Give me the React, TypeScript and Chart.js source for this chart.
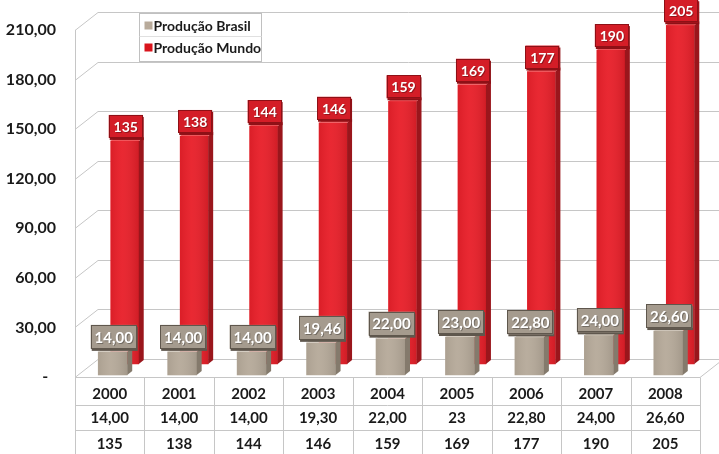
import React, { useEffect, useRef } from 'react';
import { Chart, registerables } from 'chart.js';

Chart.register(...registerables);

// ---------- data ----------
const years = ['2000', '2001', '2002', '2003', '2004', '2005', '2006', '2007', '2008'];
const seriesNames = ['Produção Brasil', 'Produção Mundo'];
const brasilValues = [14, 14, 14, 19.46, 22, 23, 22.8, 24, 26.6];
const mundoValues = [135, 138, 144, 146, 159, 169, 177, 190, 205];
const brasilLabels = ['14,00', '14,00', '14,00', '19,46', '22,00', '23,00', '22,80', '24,00', '26,60'];
const mundoLabels = ['135', '138', '144', '146', '159', '169', '177', '190', '205'];
const brasilTableLabels = ['14,00', '14,00', '14,00', '19,30', '22,00', '23', '22,80', '24,00', '26,60'];
const mundoTableLabels = ['135', '138', '144', '146', '159', '169', '177', '190', '205'];
const yMin = 0;
const yMax = 210;
const yStep = 30;

// ---------- styles ----------
const FONT = 'Lato, "Open Sans", sans-serif';
const TEXT = '#1a1a1a';
const GRID = '#c6c6c6';
const WALL_DX = 23;
const WALL_DY = -18;
const SIDE_DX = 5;
const SIDE_DY = -4;
const shifts = [
  { x: 3, y: -2 },
  { x: 15, y: -13 },
];
const looks = [
  { front: '#b6aa9a', side: '#847a6c', top: '#d3cabe', box: '#a59b8e', boxEdge: '#5f574d', legend: '#b9ab9b', font: 'bold 15px', w: 46, h: 24 },
  { front: '#e8202a', side: '#9a161c', top: '#f0565b', box: '#d41d27', boxEdge: '#8e1016', legend: '#d9141c', font: 'bold 14px', w: 34, h: 23 },
];

const excel3d = {
  id: 'excel3d',
  beforeDatasetsDraw(chart: any) {
    const { ctx, chartArea, scales } = chart;
    const y = scales.y;
    ctx.save();
    ctx.strokeStyle = GRID;
    ctx.lineWidth = 1;
    for (const t of y.ticks) {
      const py = Math.round(y.getPixelForValue(t.value)) + 0.5;
      ctx.beginPath();
      ctx.moveTo(chartArea.left, py);
      ctx.lineTo(chartArea.left + WALL_DX, py + WALL_DY);
      ctx.lineTo(chart.width, py + WALL_DY);
      ctx.stroke();
    }
    ctx.beginPath();
    ctx.moveTo(chartArea.left + 0.5, chartArea.top);
    ctx.lineTo(chartArea.left + 0.5, chart.height);
    ctx.stroke();
    const fb = Math.round(chartArea.bottom) + 0.5;
    ctx.beginPath();
    ctx.moveTo(chartArea.right, fb);
    ctx.lineTo(chartArea.right + WALL_DX, fb + WALL_DY);
    ctx.stroke();
    ctx.restore();
  },
  beforeDatasetDraw(chart: any, args: any) {
    const s = shifts[args.index];
    chart.ctx.save();
    chart.ctx.translate(s.x, s.y);
  },
  afterDatasetDraw(chart: any, args: any) {
    const ctx = chart.ctx;
    const i = args.index;
    const look = looks[i];
    const labels = i === 0 ? brasilLabels : mundoLabels;
    const meta = chart.getDatasetMeta(i);
    meta.data.forEach((el: any, k: number) => {
      const { x, y, base, width } = el.getProps(['x', 'y', 'base', 'width'], true);
      const xl = x - width / 2;
      const xr = x + width / 2;
      const g = ctx.createLinearGradient(xl, 0, xr, 0);
      g.addColorStop(0, 'rgba(0,0,0,0.06)');
      g.addColorStop(0.4, 'rgba(255,255,255,0.04)');
      g.addColorStop(1, 'rgba(0,0,0,0.1)');
      ctx.fillStyle = g;
      ctx.fillRect(xl, y, width, base - y);
      ctx.fillStyle = look.side;
      ctx.beginPath();
      ctx.moveTo(xr, y);
      ctx.lineTo(xr + SIDE_DX, y + SIDE_DY);
      ctx.lineTo(xr + SIDE_DX, base + SIDE_DY);
      ctx.lineTo(xr, base);
      ctx.closePath();
      ctx.fill();
      ctx.fillStyle = look.top;
      ctx.beginPath();
      ctx.moveTo(xl, y);
      ctx.lineTo(xl + SIDE_DX, y + SIDE_DY);
      ctx.lineTo(xr + SIDE_DX, y + SIDE_DY);
      ctx.lineTo(xr, y);
      ctx.closePath();
      ctx.fill();
      const bw = look.w;
      const bh = look.h;
      const bx = x + 1 - bw / 2;
      const by = y - 3 - bh;
      ctx.fillStyle = look.boxEdge;
      ctx.fillRect(bx + 1, by + 2, bw, bh);
      ctx.fillStyle = look.box;
      ctx.fillRect(bx, by, bw, bh);
      ctx.strokeStyle = look.boxEdge;
      ctx.lineWidth = 1;
      ctx.strokeRect(Math.round(bx) + 0.5, Math.round(by) + 0.5, bw - 1, bh - 1);
      ctx.font = `${look.font} ${FONT}`;
      ctx.textAlign = 'center';
      ctx.textBaseline = 'middle';
      ctx.fillStyle = 'rgba(0,0,0,0.3)';
      ctx.fillText(labels[k], bx + bw / 2 + 1, by + bh / 2 + 2);
      ctx.fillStyle = '#ffffff';
      ctx.fillText(labels[k], bx + bw / 2, by + bh / 2 + 1);
    });
    ctx.restore();
  },
  afterDraw(chart: any) {
    const { ctx, chartArea, scales } = chart;
    const xs = scales.x;
    const n = years.length;
    const colW = (chartArea.right - chartArea.left) / n;
    const top = Math.round(chartArea.bottom) + 0.5;
    const rowLines = [top, top + 28, top + 53];
    const rowCenters = [top + 17, top + 41, top + 67];
    ctx.save();
    ctx.strokeStyle = GRID;
    ctx.lineWidth = 1;
    for (const ry of rowLines) {
      ctx.beginPath();
      ctx.moveTo(chartArea.left, ry);
      ctx.lineTo(chartArea.right, ry);
      ctx.stroke();
    }
    for (let k = 0; k <= n; k++) {
      const vx = Math.round(chartArea.left + k * colW) + 0.5;
      ctx.beginPath();
      ctx.moveTo(vx, top);
      ctx.lineTo(vx, chart.height);
      ctx.stroke();
    }
    ctx.fillStyle = TEXT;
    ctx.font = `bold 15px ${FONT}`;
    ctx.textAlign = 'center';
    ctx.textBaseline = 'middle';
    const rows = [years, brasilTableLabels, mundoTableLabels];
    rows.forEach((row, r) => {
      row.forEach((txt, k) => {
        ctx.fillText(txt, xs.getPixelForValue(k), rowCenters[r]);
      });
    });

    // legend
    const lx = 139.5;
    const ly = 13.5;
    const lw = 122;
    const lh = 48;
    ctx.fillStyle = '#ffffff';
    ctx.fillRect(lx, ly, lw, lh);
    ctx.strokeStyle = '#c0c0c0';
    ctx.strokeRect(lx, ly, lw, lh);
    ctx.beginPath();
    ctx.moveTo(lx, ly + 23);
    ctx.lineTo(lx + lw, ly + 23);
    ctx.strokeStyle = '#e0e0e0';
    ctx.stroke();
    ctx.font = `bold 14px ${FONT}`;
    ctx.textAlign = 'left';
    chart.data.datasets.forEach((ds: any, i: number) => {
      const cy = ly + 12 + i * 22;
      ctx.fillStyle = looks[i].legend;
      ctx.fillRect(lx + 5, cy - 4, 8, 8);
      ctx.fillStyle = TEXT;
      ctx.fillText(ds.label, lx + 14, cy + 1);
    });
    ctx.restore();
  },
};

export default function App() {
  const ref = useRef<HTMLCanvasElement | null>(null);
  useEffect(() => {
    document.body.style.margin = '0';
    const canvas = ref.current;
    if (!canvas) return;
    const chart = new Chart(canvas, {
      type: 'bar',
      data: {
        labels: years,
        datasets: [
          {
            label: seriesNames[0],
            data: brasilValues,
            backgroundColor: looks[0].front,
            barThickness: 29,
            grouped: false,
            clip: false,
          } as any,
          {
            label: seriesNames[1],
            data: mundoValues,
            backgroundColor: looks[1].front,
            barThickness: 28,
            grouped: false,
            clip: false,
          } as any,
        ],
      },
      options: {
        responsive: false,
        animation: false,
        devicePixelRatio: 1,
        layout: { padding: { left: 0, top: 30, right: 19, bottom: 77 } },
        plugins: {
          legend: { display: false },
          tooltip: { enabled: false },
        },
        scales: {
          x: { display: false, offset: true },
          y: {
            min: yMin,
            max: yMax,
            afterFit: (s: any) => {
              s.width = 75;
            },
            border: { display: false },
            grid: { display: false, drawTicks: false },
            ticks: {
              stepSize: yStep,
              padding: 19,
              color: TEXT,
              font: { family: FONT, size: 16, weight: 'bold' },
              callback: (v: any) => (Number(v) === 0 ? '-  ' : Number(v).toFixed(2).replace('.', ',')),
            },
          },
        },
      },
      plugins: [excel3d],
    });
    return () => chart.destroy();
  }, []);
  return (
    <div style={{ position: 'absolute', left: 0, top: 0, width: 719, height: 454, background: '#fff' }}>
      <canvas ref={ref} width={719} height={454} style={{ width: 719, height: 454, display: 'block' }} />
    </div>
  );
}
